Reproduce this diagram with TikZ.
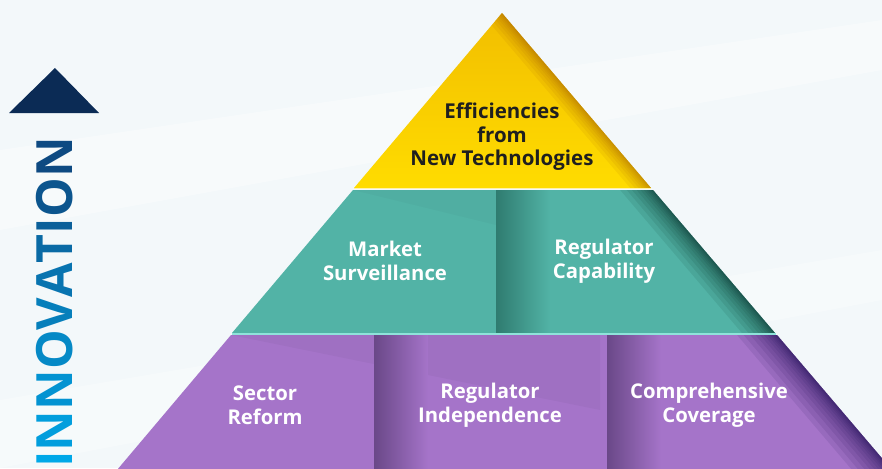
\documentclass[tikz,border=0pt]{standalone}
\usepackage{fontspec}
\setmainfont{Open Sans}
\definecolor{bgblue}{HTML}{F3F8FA}
\definecolor{yellowtop}{HTML}{F2BE00}
\definecolor{yellowbot}{HTML}{FFDC00}
\definecolor{yellowedge}{HTML}{A05A00}
\definecolor{yellowline}{HTML}{FFF1A8}
\definecolor{teal}{HTML}{52B3A6}
\definecolor{tealshadow}{HTML}{2F7C70}
\definecolor{tealedge}{HTML}{00231E}
\definecolor{tealline}{HTML}{8FE3DA}
\definecolor{purple}{HTML}{A574C9}
\definecolor{purpleshadow}{HTML}{6A4888}
\definecolor{purpleedge}{HTML}{14064C}
\definecolor{navy}{HTML}{0B2B55}
\definecolor{innotop}{HTML}{0E4A82}
\definecolor{innobot}{HTML}{00A8E8}
\tikzset{every node/.style={align=center},
  tier/.style={text=white, font=\bfseries\fontsize{20.3}{24}\selectfont},
  topTier/.style={text=black!88, font=\bfseries\fontsize{20.5}{23.5}\selectfont},
  innoText/.style={font=\bfseries\fontsize{50}{50}\selectfont, inner sep=0pt},
  rimShade/.style={line width=#1, opacity=0.09}}

\begin{document}
\begin{tikzpicture}[x=1pt,y=-1pt]
  \useasboundingbox (0,0) rectangle (882,468);
  \fill[bgblue] (0,0) rectangle (882,468);
  \clip (0,0) rectangle (882,468);
  % faint light bands behind
  \fill[white,opacity=0.35] (0,150) -- (882,20) -- (882,70) -- (0,230) -- cycle;
  \fill[white,opacity=0.3] (0,400) -- (882,250) -- (882,300) -- (0,468) -- cycle;

  % arrow head
  \fill[navy] (55,68) -- (99,113) -- (9,113) -- cycle;
  \node[innoText, rotate=90, anchor=base west] (innovation) at (72,468)
    {\textcolor{innobot}{I}\textcolor{innotop!11!innobot}{N}\textcolor{innotop!22!innobot}{N}%
     \textcolor{innotop!33!innobot}{O}\textcolor{innotop!44!innobot}{V}\textcolor{innotop!55!innobot}{A}%
     \textcolor{innotop!66!innobot}{T}\textcolor{innotop!77!innobot}{I}\textcolor{innotop!88!innobot}{O}%
     \textcolor{innotop}{N}};

  % right rim of the pyramid, shared by the three tiers
  \coordinate (rimA) at (463,-33);
  \coordinate (rimB) at (900,480);

  % top: yellow triangle
  \shade[top color=yellowtop, bottom color=yellowbot] (502,13) -- (651,188) -- (354,188) -- cycle;
  \begin{scope}
    \clip (502,13) -- (651,188) -- (354,188) -- cycle;
    \foreach \w in {2,4,7,10,14,19,25,32}
      \draw[yellowedge, rimShade=\w pt] (rimA) -- (rimB);
  \end{scope}
  \draw[yellowline, line width=1.5pt] (354,188.5) -- (651,188.5);

  % middle: teal band
  \fill[teal] (353,190) -- (653,190) -- (775,333) -- (232,333) -- cycle;
  \begin{scope}
    \clip (353,190) -- (653,190) -- (775,333) -- (232,333) -- cycle;
    \fill[black,opacity=0.025] (353,190) -- (496,190) -- (496,225) -- cycle;
    \shade[left color=tealshadow, right color=teal] (496,190) rectangle (550,333);
    \foreach \w in {2,4,7,10,14,19,25,32,40,50}
      \draw[tealedge, rimShade=\w pt] (rimA) -- (rimB);
  \end{scope}
  \draw[tealline, line width=2pt] (232,334) -- (776,334);

  % bottom: purple band
  \fill[purple] (231,335) -- (777,335) -- (892,470) -- (117,470) -- cycle;
  \begin{scope}
    \clip (231,335) -- (777,335) -- (892,470) -- (117,470) -- cycle;
    \fill[black,opacity=0.03] (231,335) -- (600,335) -- (600,410) -- cycle;
    \shade[left color=purpleshadow, right color=purple] (374,335) rectangle (428,470);
    \shade[left color=purpleshadow, right color=purple] (607,335) rectangle (661,470);
    \foreach \w in {2,4,7,10,14,19,25,32,40,50,60}
      \draw[purpleedge, rimShade=\w pt] (rimA) -- (rimB);
  \end{scope}

  % labels
  \node[topTier] (efficiencies) at (502,137) {Efficiencies\\from\\New Technologies};
  \node[tier] (surveillance) at (385,261) {Market\\Surveillance};
  \node[tier] (capability) at (604,261) {Regulator\\Capability};
  \node[tier] (reform) at (265,405) {Sector\\Reform};
  \node[tier] (independence) at (490,405) {Regulator\\Independence};
  \node[tier] (coverage) at (709,405) {Comprehensive\\Coverage};
\end{tikzpicture}
\end{document}
